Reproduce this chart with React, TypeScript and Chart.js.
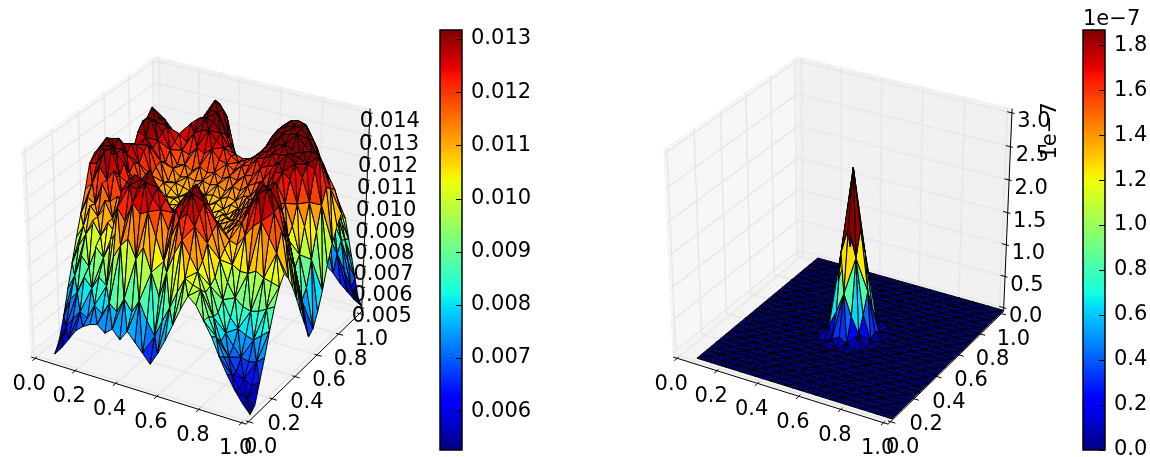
import React, { useEffect, useRef } from "react";
import { Chart, registerables } from "chart.js";

Chart.register(...registerables);

// ---------- data ----------
const xTicks = [0, 0.2, 0.4, 0.6, 0.8, 1];
const yTicks = [0, 0.2, 0.4, 0.6, 0.8, 1];
const leftZTicks = [0.005, 0.006, 0.007, 0.008, 0.009, 0.01, 0.011, 0.012, 0.013, 0.014];
const rightZTicks = [0, 0.5, 1, 1.5, 2, 2.5, 3];
const leftBarTicks = [0.006, 0.007, 0.008, 0.009, 0.01, 0.011, 0.012, 0.013];
const rightBarTicks = [0, 0.2, 0.4, 0.6, 0.8, 1, 1.2, 1.4, 1.6, 1.8];
const leftRange = [0.00527, 0.01317];
const rightRange = [0, 1.867];
const meshX = [0.09, 1.03];
const meshY = [-0.005, 1.0];

// surface heights, thousandths; rows run from y min to y max, columns from x min to x max
const leftSurface = [
  [5.2, 5.6, 6.1, 6.6, 6.9, 7.1, 7.2, 6.9, 7.2, 6.8, 7.3, 6.9, 6.5, 6.1, 6.7, 7.4, 8.2, 9.0, 9.7, 9.4, 8.8, 8.2, 7.4, 6.7, 6.1, 5.6, 5.2],
  [5.7, 6.4, 6.9, 7.3, 7.1, 7.8, 7.5, 8.1, 7.8, 8.5, 8.0, 8.6, 7.8, 7.2, 8.0, 8.7, 9.5, 10.2, 10.0, 9.9, 8.8, 8.0, 7.2, 6.5, 6.0, 5.6, 5.4],
  [6.6, 7.5, 7.9, 8.7, 8.3, 8.9, 8.6, 10.0, 10.6, 11.0, 10.2, 10.8, 9.8, 8.8, 10.0, 10.9, 11.6, 11.0, 10.4, 9.6, 8.6, 7.6, 7.0, 6.4, 6.2, 6.0, 6.3],
  [7.7, 8.4, 9.4, 9.0, 10.0, 9.6, 10.5, 12.0, 11.5, 12.4, 12.0, 12.2, 11.2, 10.2, 11.4, 12.2, 12.6, 12.1, 10.7, 9.7, 8.6, 7.8, 7.3, 6.9, 6.8, 6.9, 7.2],
  [8.7, 9.6, 10.2, 10.9, 10.3, 11.0, 10.6, 12.6, 12.9, 12.8, 13.2, 12.6, 12.2, 11.4, 12.4, 12.8, 13.3, 12.5, 11.3, 9.9, 9.0, 8.3, 7.9, 7.7, 7.6, 7.9, 8.2],
  [9.7, 10.3, 11.3, 10.9, 11.7, 11.0, 11.9, 12.8, 13.2, 13.1, 13.6, 12.9, 12.5, 12.0, 12.6, 13.1, 13.5, 12.8, 11.6, 10.5, 9.6, 9.0, 8.7, 8.6, 8.7, 8.9, 9.1],
  [10.6, 11.4, 11.2, 12.2, 11.5, 11.8, 11.4, 12.4, 12.6, 13.0, 12.7, 12.3, 12.0, 11.6, 12.2, 12.6, 13.0, 12.5, 11.8, 10.8, 10.2, 10.0, 10.0, 10.2, 10.0, 9.9, 9.8],
  [11.5, 11.9, 12.7, 12.2, 12.7, 11.6, 11.7, 11.3, 11.9, 11.6, 12.1, 11.5, 11.6, 11.2, 11.7, 11.9, 11.6, 11.8, 11.2, 11.0, 10.9, 11.4, 11.9, 12.2, 11.6, 11.0, 10.2],
  [12.5, 12.6, 13.2, 13.4, 12.3, 12.1, 11.2, 11.5, 11.1, 11.4, 11.2, 11.3, 11.0, 11.2, 10.9, 11.3, 11.0, 11.4, 11.0, 11.4, 11.7, 12.4, 13.1, 13.4, 12.5, 11.8, 9.8],
  [12.8, 13.2, 13.3, 13.0, 12.7, 11.6, 11.3, 10.9, 11.2, 10.9, 11.1, 10.8, 11.0, 10.8, 11.1, 10.9, 11.1, 10.9, 11.2, 11.5, 12.1, 12.8, 13.3, 13.2, 12.6, 11.2, 9.2],
  [12.9, 13.4, 13.0, 13.1, 12.1, 11.8, 11.0, 11.1, 10.8, 11.0, 10.7, 11.0, 10.8, 11.0, 10.8, 11.1, 10.9, 11.1, 11.3, 11.9, 12.0, 13.2, 13.1, 13.4, 12.1, 10.4, 8.5],
  [12.2, 13.2, 13.3, 12.7, 12.4, 11.4, 11.2, 10.8, 10.9, 10.7, 10.9, 10.6, 10.9, 10.7, 10.9, 10.7, 11.0, 11.0, 11.6, 11.4, 12.4, 12.4, 12.8, 12.4, 11.2, 9.7, 7.7],
  [10.8, 12.4, 12.9, 13.0, 12.2, 11.7, 11.0, 11.0, 10.7, 10.8, 10.6, 10.8, 10.6, 10.8, 10.6, 10.9, 10.8, 11.3, 11.2, 11.9, 11.9, 12.5, 12.0, 11.3, 10.2, 8.8, 7.0],
  [8.8, 11.2, 12.2, 12.8, 12.6, 11.6, 11.1, 10.8, 10.8, 10.6, 10.8, 10.6, 10.8, 10.6, 10.8, 10.7, 11.0, 11.1, 11.7, 11.6, 12.3, 11.8, 11.4, 10.4, 9.2, 7.8, 6.2],
  [8.1, 10.4, 12.4, 12.6, 12.7, 11.8, 11.2, 11.0, 10.7, 10.9, 10.7, 10.9, 10.7, 10.9, 10.7, 11.0, 10.9, 11.5, 11.4, 12.1, 12.0, 12.4, 11.7, 10.8, 9.6, 8.2, 6.4],
  [9.6, 11.4, 13.0, 12.8, 12.4, 11.9, 11.1, 11.1, 11.0, 10.9, 11.0, 10.9, 11.0, 10.9, 11.1, 11.0, 11.3, 11.4, 11.9, 11.9, 12.7, 12.8, 12.6, 11.6, 10.7, 9.3, 7.0],
  [10.6, 12.0, 13.3, 13.5, 12.6, 11.7, 11.5, 11.2, 11.3, 11.2, 11.3, 11.2, 11.3, 11.1, 11.4, 11.3, 11.6, 11.8, 12.0, 12.6, 13.0, 13.4, 13.1, 12.6, 11.6, 10.4, 7.8],
  [10.7, 12.6, 13.3, 13.2, 12.8, 12.1, 11.5, 11.6, 11.4, 11.7, 11.5, 11.6, 11.4, 11.6, 11.5, 11.8, 11.9, 12.3, 12.5, 12.6, 13.0, 13.3, 13.2, 13.0, 12.9, 11.4, 8.8],
  [10.8, 12.2, 13.6, 13.2, 12.9, 12.3, 12.0, 11.9, 12.3, 12.1, 12.4, 12.0, 11.9, 11.7, 12.0, 12.1, 12.5, 12.6, 12.9, 12.9, 13.0, 12.8, 13.3, 13.4, 13.3, 12.0, 9.6],
  [10.2, 11.8, 12.8, 13.0, 12.4, 12.5, 12.2, 12.7, 12.9, 13.0, 12.6, 12.4, 12.1, 11.9, 12.1, 12.3, 12.6, 12.8, 13.1, 13.2, 13.1, 12.8, 12.7, 12.6, 12.8, 11.8, 10.2],
  [9.5, 10.6, 11.8, 11.7, 12.2, 11.9, 12.9, 13.2, 13.3, 13.2, 12.8, 12.3, 12.0, 11.9, 12.0, 12.3, 12.7, 13.0, 13.4, 13.5, 13.6, 13.2, 12.9, 12.4, 12.2, 11.6, 10.6],
  [8.9, 9.8, 10.6, 11.0, 11.2, 11.4, 12.2, 13.1, 13.5, 13.5, 12.6, 11.8, 11.3, 11.2, 11.5, 12.2, 12.9, 13.4, 13.6, 13.7, 13.7, 13.3, 12.6, 12.0, 11.2, 10.9, 10.2],
  [8.3, 9.2, 9.7, 10.4, 10.4, 10.9, 11.6, 13.0, 13.8, 13.5, 12.2, 11.4, 10.9, 10.8, 11.3, 12.1, 13.0, 13.4, 13.7, 13.8, 13.7, 13.1, 12.3, 11.4, 10.5, 9.8, 9.1],
  [7.6, 8.3, 8.9, 9.3, 9.6, 10.0, 11.0, 12.6, 13.5, 13.0, 11.6, 10.8, 10.3, 10.2, 10.8, 11.7, 12.7, 13.2, 13.4, 13.5, 13.2, 12.6, 11.7, 10.8, 9.8, 8.8, 8.0],
  [6.8, 7.4, 7.9, 8.2, 8.5, 9.0, 10.0, 11.6, 12.2, 11.6, 10.3, 9.6, 9.2, 9.3, 9.9, 10.6, 11.4, 11.9, 12.0, 11.9, 11.5, 10.8, 10.0, 9.2, 8.5, 7.6, 6.9],
  [6.0, 6.5, 6.9, 7.2, 7.5, 8.0, 8.9, 10.0, 10.3, 9.8, 8.7, 8.2, 8.0, 8.1, 8.5, 9.0, 9.6, 9.9, 10.0, 9.8, 9.4, 8.9, 8.2, 7.6, 6.9, 6.2, 5.8],
  [5.3, 5.7, 6.0, 6.3, 6.6, 7.0, 7.8, 8.6, 8.8, 8.0, 7.4, 7.2, 7.3, 7.6, 8.0, 8.3, 8.4, 8.2, 7.9, 7.5, 7.1, 6.7, 6.4, 6.0, 5.7, 5.4, 5.2],
];

// central block of the right surface, units of 1e-7; everything around it is flat at zero
const rightPeak = [
  [0.01, 0.01, 0.08, 0.14, 0.07, 0.01, 0.01],
  [0.01, 0.2, 0.45, 0.76, 0.44, 0.19, 0.01],
  [0.08, 0.46, 1.3, 1.72, 1.28, 0.44, 0.07],
  [0.15, 0.78, 1.7, 2.55, 1.68, 0.74, 0.14],
  [0.07, 0.45, 1.27, 1.7, 1.25, 0.43, 0.07],
  [0.01, 0.19, 0.44, 0.73, 0.43, 0.18, 0.01],
  [0.01, 0.01, 0.07, 0.13, 0.07, 0.01, 0.01],
];
const rightNodes = 27;
const rightPeakStart = 10;

// ---------- styling ----------
const FONT = '"DejaVu Sans"';
const FONT_SIZE = 21;
const PANEL_W = 441;
const PANEL_H = 457;
const PX_X = 2382;
const PX_Y = 2273;
const ORIGIN_X = 199;
const ORIGIN_Y = 234;
const E = 1 / 48;

// ---------- projection of the 3D box (elevation 30, azimuth -60, distance 10) ----------
function project(x: number, y: number, z: number) {
  const px = x - 0.5, py = y - 0.5, pz = z - 0.5;
  const u = 0.8660254 * px + 0.5 * py;
  const v = -0.25 * px + 0.4330127 * py + 0.8660254 * pz;
  const n = 0.4330127 * px - 0.75 * py + 0.5 * pz;
  const d = 10 - n;
  return { x: u / d, y: v / d, d };
}

const JET = {
  r: [[0, 0], [0.35, 0], [0.66, 1], [0.89, 1], [1, 0.5]],
  g: [[0, 0], [0.125, 0], [0.375, 1], [0.64, 1], [0.91, 0], [1, 0]],
  b: [[0, 0.5], [0.11, 1], [0.34, 1], [0.65, 0], [1, 0]],
};
function channel(stops: number[][], t: number) {
  for (let i = 1; i < stops.length; i++) {
    if (t <= stops[i][0]) {
      const [a, va] = stops[i - 1], [b, vb] = stops[i];
      return va + ((vb - va) * (t - a)) / (b - a);
    }
  }
  return stops[stops.length - 1][1];
}
function jet(t: number) {
  const c = Math.max(0, Math.min(1, t));
  return `rgb(${Math.round(channel(JET.r, c) * 255)},${Math.round(channel(JET.g, c) * 255)},${Math.round(channel(JET.b, c) * 255)})`;
}

function poly(points: number[][], fill: string | null, stroke: string, width: number) {
  return {
    data: points.map((p) => { const q = project(p[0], p[1], p[2]); return { x: q.x, y: q.y }; }),
    showLine: true,
    pointRadius: 0,
    tension: 0,
    fill: fill ? "shape" : false,
    backgroundColor: fill || "transparent",
    borderColor: stroke,
    borderWidth: width,
    borderJoinStyle: "round",
    clip: false,
  };
}

type PanelSpec = {
  grid: number[][];
  zRange: number[];
  zTicks: number[];
  zFormat: (v: number) => string;
  zLabelDx: number;
  range: number[];
  offsetText?: string;
};

function boxDatasets(spec: PanelSpec) {
  const hi = 1 + E, lo = -E;
  const out: any[] = [];
  const zn = (z: number) => (z - spec.zRange[0]) / (spec.zRange[1] - spec.zRange[0]);
  out.push(poly([[lo, lo, lo], [lo, hi, lo], [lo, hi, hi], [lo, lo, hi], [lo, lo, lo]], "#f7f7f7", "#f2f2f2", 1));
  out.push(poly([[lo, lo, lo], [hi, lo, lo], [hi, hi, lo], [lo, hi, lo], [lo, lo, lo]], "#f4f4f4", "#f2f2f2", 1));
  out.push(poly([[lo, hi, lo], [hi, hi, lo], [hi, hi, hi], [lo, hi, hi], [lo, hi, lo]], "#f1f1f1", "#f0f0f0", 1));
  const GRID = "#e6e6e6";
  for (const t of xTicks) out.push(poly([[t, lo, lo], [t, hi, lo], [t, hi, hi]], null, GRID, 1.4));
  for (const t of yTicks) out.push(poly([[hi, t, lo], [lo, t, lo], [lo, t, hi]], null, GRID, 1.4));
  for (const t of spec.zTicks) out.push(poly([[lo, lo, zn(t)], [lo, hi, zn(t)], [hi, hi, zn(t)]], null, GRID, 1.4));
  out.push(poly([[lo, lo, lo], [hi, lo, lo]], null, "#000", 1));
  out.push(poly([[hi, lo, lo], [hi, hi, lo]], null, "#000", 1));
  out.push(poly([[hi, hi, lo], [hi, hi, hi]], null, "#000", 1));
  for (const t of xTicks) out.push(poly([[t, lo + 0.012, lo], [t, lo - 0.022, lo]], null, "#000", 1));
  for (const t of yTicks) out.push(poly([[hi - 0.012, t, lo], [hi + 0.022, t, lo]], null, "#000", 1));
  for (const t of spec.zTicks) out.push(poly([[hi - 0.022, hi, zn(t)], [hi + 0.012, hi, zn(t)]], null, "#000", 1));
  return out;
}

function surfaceDatasets(spec: PanelSpec) {
  const g = spec.grid;
  const rows = g.length, cols = g[0].length;
  const zn = (z: number) => (z - spec.zRange[0]) / (spec.zRange[1] - spec.zRange[0]);
  const node = (i: number, j: number) => [
    meshX[0] + ((meshX[1] - meshX[0]) * i) / (cols - 1),
    meshY[0] + ((meshY[1] - meshY[0]) * j) / (rows - 1),
    zn(g[j][i]),
  ];
  const tris: { pts: number[][]; mean: number; depth: number }[] = [];
  const add = (a: number[], b: number[], c: number[], m: number) => {
    const depth = (project(a[0], a[1], a[2]).d + project(b[0], b[1], b[2]).d + project(c[0], c[1], c[2]).d) / 3;
    tris.push({ pts: [a, b, c, a], mean: m, depth });
  };
  for (let j = 0; j < rows - 1; j++) {
    for (let i = 0; i < cols - 1; i++) {
      const a = node(i, j), b = node(i + 1, j), c = node(i + 1, j + 1), d = node(i, j + 1);
      const va = g[j][i], vb = g[j][i + 1], vc = g[j + 1][i + 1], vd = g[j + 1][i];
      if ((i + j) % 2 === 0) {
        add(a, b, c, (va + vb + vc) / 3);
        add(a, c, d, (va + vc + vd) / 3);
      } else {
        add(a, b, d, (va + vb + vd) / 3);
        add(b, c, d, (vb + vc + vd) / 3);
      }
    }
  }
  tris.sort((p, q) => q.depth - p.depth);
  const [lo, hi] = spec.range;
  return tris.map((t) => poly(t.pts, jet((t.mean - lo) / (hi - lo)), "#000", 1));
}

function labelsPlugin(spec: PanelSpec) {
  const hi = 1 + E, lo = -E;
  const zn = (z: number) => (z - spec.zRange[0]) / (spec.zRange[1] - spec.zRange[0]);
  return {
    id: "boxLabels",
    afterDatasetsDraw(chart: any) {
      const { ctx, scales } = chart;
      const at = (p: { x: number; y: number }) => [scales.x.getPixelForValue(p.x), scales.y.getPixelForValue(p.y)];
      ctx.save();
      ctx.font = `${FONT_SIZE}px ${FONT}`;
      ctx.fillStyle = "#000";
      ctx.textAlign = "center";
      ctx.textBaseline = "middle";
      for (const t of xTicks) {
        const [px, py] = at(project(t, lo, lo));
        ctx.fillText(t.toFixed(1), px - 6, py + 26);
      }
      for (const t of yTicks) {
        const [px, py] = at(project(hi, t, lo));
        ctx.fillText(t.toFixed(1), px + 12, py + 26);
      }
      for (const t of spec.zTicks) {
        const [px, py] = at(project(hi, hi, zn(t)));
        ctx.fillText(spec.zFormat(t), px + spec.zLabelDx, py + 9);
      }
      if (spec.offsetText) {
        const [px, py] = at(project(hi, hi, 1));
        ctx.translate(px + 39, py + 18);
        ctx.rotate(-Math.PI / 2);
        ctx.fillText(spec.offsetText, 0, 0);
      }
      ctx.restore();
    },
  };
}

function Panel({ spec, left }: { spec: PanelSpec; left: number }) {
  const ref = useRef<HTMLCanvasElement>(null);
  useEffect(() => {
    const ordered = [...boxDatasets(spec), ...surfaceDatasets(spec)].reverse();
    const chart = new Chart(ref.current!, {
      type: "scatter",
      data: { datasets: ordered as any },
      plugins: [labelsPlugin(spec)],
      options: {
        animation: false,
        responsive: false,
        events: [],
        layout: { padding: 0 },
        plugins: { legend: { display: false }, tooltip: { enabled: false } },
        scales: {
          x: { type: "linear", display: false, min: -ORIGIN_X / PX_X, max: (PANEL_W - ORIGIN_X) / PX_X },
          y: { type: "linear", display: false, min: (ORIGIN_Y - PANEL_H) / PX_Y, max: ORIGIN_Y / PX_Y },
        },
      } as any,
    });
    return () => chart.destroy();
  }, []);
  return <canvas ref={ref} width={PANEL_W} height={PANEL_H} style={{ position: "absolute", left, top: 0, width: PANEL_W, height: PANEL_H }} />;
}

function ColorBar({ left, width, range, ticks, digits, title }: { left: number; width: number; range: number[]; ticks: number[]; digits: number; title?: string }) {
  const ref = useRef<HTMLCanvasElement>(null);
  useEffect(() => {
    const bands = 256;
    const step = (range[1] - range[0]) / bands;
    const datasets = Array.from({ length: bands }, (_, k) => ({
      data: [[range[0] + k * step, Math.min(range[1], range[0] + (k + 1.5) * step)]],
      backgroundColor: jet((k + 0.5) / bands),
      borderWidth: 0,
      barPercentage: 1,
      categoryPercentage: 1,
    })).reverse();
    const frame = {
      id: "barFrame",
      afterDatasetsDraw(chart: any) {
        const { ctx, chartArea: a, scales } = chart;
        ctx.save();
        ctx.strokeStyle = "#000";
        ctx.lineWidth = 1;
        for (const t of ticks) {
          const py = Math.round(scales.y.getPixelForValue(t)) + 0.5;
          ctx.beginPath();
          ctx.moveTo(a.right, py);
          ctx.lineTo(a.right - 6, py);
          ctx.stroke();
        }
        ctx.lineWidth = 1.5;
        ctx.strokeRect(a.left, a.top, a.right - a.left, a.bottom - a.top);
        if (title) {
          ctx.fillStyle = "#000";
          ctx.font = `${FONT_SIZE}px ${FONT}`;
          ctx.textAlign = "left";
          ctx.textBaseline = "alphabetic";
          ctx.fillText(title, a.left, 25);
        }
        ctx.restore();
      },
    };
    const chart = new Chart(ref.current!, {
      type: "bar",
      data: { labels: [""], datasets: datasets as any },
      plugins: [frame],
      options: {
        animation: false,
        responsive: false,
        events: [],
        layout: { padding: { top: 30, bottom: 7, left: 1, right: 0 } },
        plugins: { legend: { display: false }, tooltip: { enabled: false } },
        scales: {
          x: { display: false, stacked: true },
          y: {
            position: "right",
            min: range[0],
            max: range[1],
            grid: { display: false },
            border: { display: false },
            afterBuildTicks: (s: any) => { s.ticks = ticks.map((value) => ({ value })); },
            afterFit: (s: any) => { s.width = width - 23; s.paddingTop = 0; s.paddingBottom = 0; },
            ticks: {
              autoSkip: false,
              padding: 1,
              color: "#000",
              font: { family: "DejaVu Sans", size: FONT_SIZE },
              callback: (v: any) => Number(v).toFixed(digits),
            },
          },
        },
      } as any,
    });
    return () => chart.destroy();
  }, []);
  return <canvas ref={ref} width={width} height={457} style={{ position: "absolute", left, top: 0, width, height: 457 }} />;
}

const rightGrid: number[][] = Array.from({ length: rightNodes }, (_, j) =>
  Array.from({ length: rightNodes }, (_, i) => rightPeak[j - rightPeakStart]?.[i - rightPeakStart] ?? 0)
);

const leftSpec: PanelSpec = {
  grid: leftSurface.map((r) => r.map((v) => v / 1000)),
  zRange: [0.005, 0.014],
  zTicks: leftZTicks,
  zFormat: (v) => v.toFixed(3),
  zLabelDx: 20,
  range: leftRange,
};
const rightSpec: PanelSpec = {
  grid: rightGrid,
  zRange: [0, 3],
  zTicks: rightZTicks,
  zFormat: (v) => v.toFixed(1),
  zLabelDx: 22,
  range: rightRange,
  offsetText: "1e\u22127",
};

export default function App() {
  return (
    <div style={{ position: "absolute", left: 0, top: 0, width: 1150, height: 457, overflow: "hidden", background: "#fff" }}>
      <Panel spec={leftSpec} left={0} />
      <Panel spec={rightSpec} left={642} />
      <ColorBar left={439} width={110} range={leftRange} ticks={leftBarTicks} digits={3} />
      <ColorBar left={1082} width={68} range={rightRange} ticks={rightBarTicks} digits={1} title={"1e\u22127"} />
    </div>
  );
}
